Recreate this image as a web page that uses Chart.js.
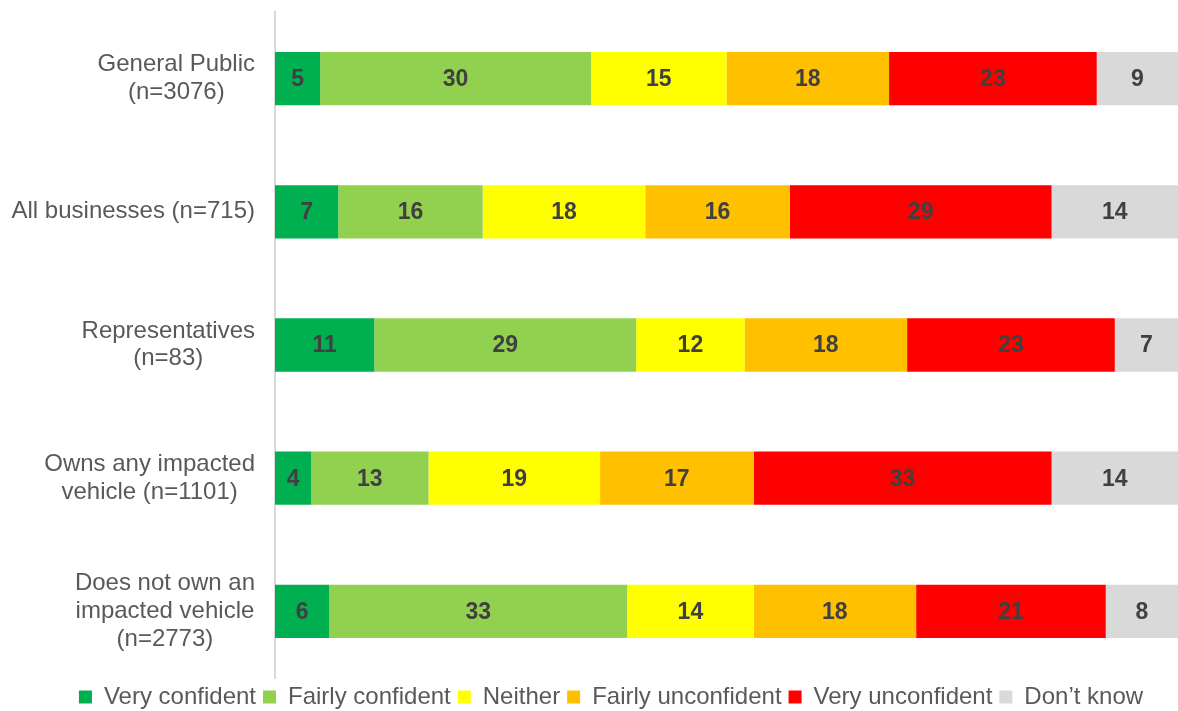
<!DOCTYPE html>
<html lang="en">
<head>
  <meta charset="UTF-8">
  <title>Confidence by group</title>
  <script src="https://cdn.jsdelivr.net/npm/chart.js"></script>
  <style>
    html, body { margin: 0; padding: 0; background: #fff; }
    #wrap { width: 1178px; height: 711px; }
  </style>
</head>
<body>
  <div id="wrap"><canvas id="confChart" width="1178" height="711"></canvas></div>

  <script>
    const groups = [
      ["General Public", "(n=3076)"],
      ["All businesses (n=715)"],
      ["Representatives", "(n=83)"],
      ["Owns any impacted", "vehicle (n=1101)"],
      ["Does not own an", "impacted vehicle", "(n=2773)"]
    ];

    const veryConfident     = [5, 7, 11, 4, 6];
    const fairlyConfident   = [30, 16, 29, 13, 33];
    const neither           = [15, 18, 12, 19, 14];
    const fairlyUnconfident = [18, 16, 18, 17, 18];
    const veryUnconfident   = [23, 29, 23, 33, 21];
    const dontKnow          = [9, 14, 7, 14, 8];

    const seriesNames  = ["Very confident", "Fairly confident", "Neither", "Fairly unconfident", "Very unconfident", "Don\u2019t know"];
    const seriesValues = [veryConfident, fairlyConfident, neither, fairlyUnconfident, veryUnconfident, dontKnow];
    const seriesColors = ["#00B050", "#92D050", "#FFFF00", "#FFC000", "#FF0000", "#D9D9D9"];

    const FONT = "'Liberation Sans', Arial, sans-serif";

    // writes the value in the middle of each segment
    const segmentLabels = {
      id: "segmentLabels",
      afterDatasetsDraw(chart) {
        const ctx = chart.ctx;
        ctx.save();
        ctx.font = "bold 23px " + FONT;
        ctx.fillStyle = "#404040";
        ctx.textAlign = "center";
        ctx.textBaseline = "middle";
        chart.data.datasets.forEach((ds, i) => {
          chart.getDatasetMeta(i).data.forEach((bar, j) => {
            const mid = (bar.x + bar.base) / 2;
            ctx.fillText(ds.data[j], mid, bar.y + 1);
          });
        });
        ctx.restore();
      }
    };

    // category names: each block centred on its own widest line,
    // right edge kept just left of the axis
    const categoryLabels = {
      id: "categoryLabels",
      afterDraw(chart) {
        const ctx = chart.ctx;
        const y = chart.scales.y;
        const lineH = 27.6;
        ctx.save();
        ctx.font = "24px " + FONT;
        ctx.fillStyle = "#595959";
        ctx.textAlign = "center";
        ctx.textBaseline = "middle";
        chart.data.labels.forEach((lines, i) => {
          const widest = Math.max(...lines.map(t => ctx.measureText(t).width));
          const cx = y.right - 20 - widest / 2;
          const cy = y.getPixelForTick(i);
          lines.forEach((t, k) => {
            ctx.fillText(t, cx, cy + (k - (lines.length - 1) / 2) * lineH);
          });
        });
        ctx.restore();
      }
    };

    // keep the legend strip short so the bars get the room,
    // and nudge the centred row a little to the right
    const shortLegend = {
      id: "shortLegend",
      beforeInit(chart) {
        const legend = chart.legend;
        if (!legend) return;
        const fit = legend.fit;
        legend.fit = function () {
          fit.call(this);
          this.height = 33;
        };
      },
      afterLayout(chart) {
        if (chart.legend) chart.legend.left += 44;
      }
    };

    new Chart(document.getElementById("confChart"), {
      type: "bar",
      data: {
        labels: groups,
        datasets: seriesNames.map((name, i) => ({
          label: name,
          data: seriesValues[i],
          backgroundColor: seriesColors[i],
          borderWidth: 0,
          categoryPercentage: 1,
          barPercentage: 0.4
        }))
      },
      options: {
        indexAxis: "y",
        responsive: false,
        animation: false,
        layout: { padding: { top: 12, left: 0, right: 0, bottom: 0 } },
        scales: {
          x: {
            stacked: true,
            min: 0,
            max: 100,
            display: false
          },
          y: {
            stacked: true,
            afterFit: s => {
              s.width = 275;
              s.paddingTop = 0;
              s.paddingBottom = 0;
            },
            grid: { display: false, drawTicks: false },
            border: { display: true, color: "#D9D9D9", width: 2 },
            ticks: { display: false }
          }
        },
        plugins: {
          legend: {
            position: "bottom",
            labels: {
              boxWidth: 13,
              boxHeight: 13,
              padding: 7,
              color: "#595959",
              font: { family: FONT, size: 24 }
            }
          },
          tooltip: { enabled: false }
        }
      },
      plugins: [shortLegend, segmentLabels, categoryLabels]
    });
  </script>
</body>
</html>
